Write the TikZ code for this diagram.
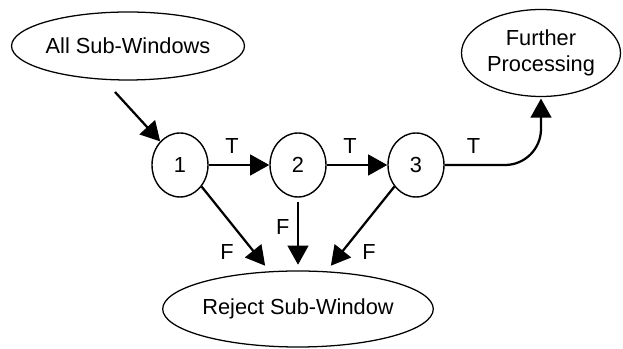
\documentclass[tikz,border=0pt]{standalone}
\usepackage{fontspec}
\setmainfont{Liberation Sans}
\usetikzlibrary{shapes.geometric,arrows.meta}
\tikzset{
  oval/.style={draw, ellipse, line width=0.9pt, inner sep=0pt, align=center},
  stage/.style={draw, ellipse, line width=1pt, inner sep=0pt, minimum width=1.4cm, minimum height=1.6cm},
  arr/.style={line width=1.6pt, -{Triangle[length=0.48cm,width=0.52cm]}},
  lbl/.style={font=\fontsize{15.5}{18}\selectfont}
}

\begin{document}
\begin{tikzpicture}[font=\fontsize{15.5}{18}\selectfont]
\useasboundingbox (0,0) rectangle (15.575,8.725);

\node[oval, minimum width=5.725cm, minimum height=1.7cm] (asw) at (3.2,7.575) {All Sub-Windows};
\node[oval, minimum width=3.975cm, minimum height=2.175cm] (fp) at (13.525,7.4) {Further\\Processing};
\node[oval, minimum width=6.725cm, minimum height=1.9cm] (rej) at (7.45,1.0) {Reject Sub-Window};

\node[stage] (c1) at (4.5,4.6) {1};
\node[stage] (c2) at (7.45,4.6) {2};
\node[stage] (c3) at (10.4,4.6) {3};

\coordinate (in) at (2.875,6.425);
\draw[arr] (in) -- (c1.130);

\draw[arr] (c1) -- (c2) node[lbl, midway, above=4pt, xshift=-5pt]{T};
\draw[arr] (c2) -- (c3) node[lbl, midway, above=4pt, xshift=-5pt]{T};
\draw[arr, rounded corners=0.9cm, shorten >=1pt] (c3.east) -| (fp.south) node[lbl, pos=0.15, above=4pt]{T};

\draw[arr, shorten >=5pt] (c1.-45) -- (rej.127) node[lbl, pos=0.62, below left, xshift=-3pt]{F};
\draw[arr, shorten <=3pt, shorten >=4pt] (c2.south) -- (rej.north) node[lbl, pos=0.4, left=2pt]{F};
\draw[arr, shorten >=5pt] (c3.-135) -- (rej.53) node[lbl, pos=0.62, below right, xshift=3pt]{F};
\end{tikzpicture}
\end{document}
